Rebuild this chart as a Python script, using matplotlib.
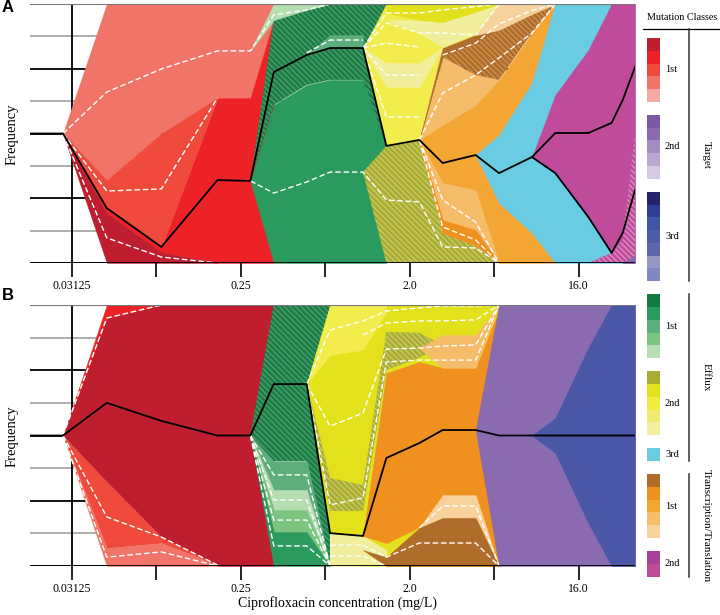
import matplotlib
matplotlib.use('Agg')
import matplotlib.pyplot as plt
from matplotlib.patches import Rectangle
from matplotlib.ticker import NullLocator

plt.rcParams['font.family'] = ['Liberation Serif', 'DejaVu Serif']
plt.rcParams['hatch.linewidth'] = 1.0

# sampled ciprofloxacin concentrations (mg/L); first entry is the left edge
conc = [0.01866, 0.028, 0.048, 0.094, 0.1875, 0.28125, 0.375, 0.5625, 0.75, 1.125,
        1.5, 2.25, 3.0, 4.5, 6.0, 9.0, 12.0, 18.0, 24.0, 27.5, 32.0]
tick_pos = [2 ** p for p in (-5, -3.5, -2, -0.5, 1, 2.5, 4)]
tick_labels = ['0.03125', '', '0.25', '', '2.0', '', '16.0']

fill = {
    'red1': '#BE1E2D', 'red2': '#EC2227', 'red3': '#EF4A3C', 'red4': '#F07468',
    'grn_h': '#1D7B45', 'grn': '#2A9A5E', 'grn_m': '#5DAE7C', 'grn_l': '#7CC480',
    'grn_p': '#B5DDB0', 'olive_h': '#A9AC33', 'yel': '#E3E11C', 'yel2': '#F2EC4C',
    'yel4': '#F2EF9C', 'cyan': '#6ACCE3', 'brown': '#B06C2A', 'brown_h': '#B06C2A',
    'org': '#F0901E', 'org2': '#F3A634', 'org3': '#F5BC6A', 'org4': '#F8D29C',
    'mag': '#C04B9A', 'mag_h': '#C04B9A', 'purple': '#8A6BB0', 'blue': '#4A56A6',
}
hatch_col = {'grn_h': '#46A06C', 'olive_h': '#C9CA62', 'brown_h': '#CC9150',
             'mag_h': '#DC8EC4'}

# Muller regions: (colour, first column, lower %, upper %)
regions_a = [
    ('red4', 1, [50, 32.0, 50, 63.7, 63.7, 93.8], [50, 100, 100, 100, 100, 100]),
    ('red2', 1, [50, 19.3, 4.2, 0, 0, 0], [50, 21.2, 6.2, 63.7, 63.7, 93.8]),
    ('red3', 1, [50, 21.2, 6.2, 63.7], [50, 32.0, 50, 63.7]),
    ('red1', 1, [50, 0, 0, 0], [50, 19.3, 4.2, 0]),
    ('grn', 5, [31.7, 0, 0, 0, 0, 0], [31.7, 61.0, 68.7, 70.7, 70.7, 45.2]),
    ('grn_h', 5, [31.7, 61.0, 68.7, 70.7, 70.7, 45.2], [31.7, 93.8, 97.7, 100, 100, 100]),
    ('grn_p', 5, [81.9, 93.8, 97.7, 100], [81.9, 100, 100, 100]),
    ('grn_m', 7, [80.3, 83.0, 83.0], [80.3, 88.0, 88.0]),
    ('olive_h', 9, [35.1, 0, 0, 0, 0, 0], [35.1, 45.2, 47.5, 11.6, 6.9, 0]),
    ('yel2', 9, [83.0, 45.2, 47.5, 83.0, 88.0, 100], [83.0, 100, 100, 100, 100, 100]),
    ('yel4', 9, [83.0, 68.0, 68.0, 83.0], [83.0, 77.2, 77.2, 83.0]),
    ('yel4', 10, [93.8, 88.8, 83.4, 88.8, 100], [93.8, 93.8, 93.0, 97.0, 100]),
    ('yel', 10, [96.5, 93.8, 93.0, 97.0, 100], [100, 100, 100, 100, 100]),
    ('org2', 11, [47.5, 11.6, 6.9, 0, 0, 0], [47.5, 79.5, 72.6, 70.7, 88.8, 100]),
    ('org3', 11, [47.5, 53.3, 61.0, 70.7], [47.5, 79.5, 72.6, 70.7]),
    ('org3', 11, [47.5, 16.6, 12.7, 0], [47.5, 30.9, 28.2, 0]),
    ('org', 11, [47.5, 11.6, 6.9, 0], [47.5, 16.6, 12.7, 0]),
    ('brown', 11, [47.5, 79.5, 84.9, 90], [47.5, 83.0, 88.0, 90]),
    ('brown_h', 12, [79.5, 72.6, 70.7, 88.8, 100], [79.5, 84.9, 90.0, 96.1, 100]),
    ('org4', 13, [88.0, 90.0, 96.1, 100], [88.0, 100, 100, 100]),
    ('cyan', 13, [41.7, 23.2, 11.6, 0, 0, 0, 0, 0], [41.7, 49.4, 69.5, 100, 100, 100, 100, 100]),
    ('mag', 15, [40.9, 34.7, 17.8, 3.9, 0, 0], [40.9, 64.9, 82.2, 100, 100, 100]),
    ('mag_h', 17, [0, 0, 0, 0], [0, 3.9, 8.9, 50]),
    ('purple', 19, [0, 0], [0, 3.1]),
]
black_a = [
    (0, [50, 50, 21.2, 6.2, 32.0, 31.7, 73.7, 80.3, 83.0, 83.0, 45.2, 47.5, 38.6,
         41.7, 34.7, 40.9, 50.2, 50.2, 54.1, 62.9, 75.7]),
    (15, [40.9, 34.7, 17.8, 3.9, 11.6, 28.2]),
]
dashed_a = [
    (1, [50, 9.7, 2.3, 0]),
    (1, [50, 27.8, 28.6, 63.7]),
    (1, [50, 66.0, 74.9, 81.9, 81.9, 95.8, 97.7, 100]),
    (7, [81.1, 86.1, 86.1]),
    (5, [31.7, 27.0, 31.3, 35.1, 35.1, 24.3, 23.6, 6.2, 5.8, 0]),
    (9, [83.0, 96.5, 96.5, 97.7, 99.0, 100]),
    (9, [83.0, 92.7, 88.8, 88.8, 88.0, 100]),
    (9, [83.0, 84.9, 83.4]),
    (9, [83.0, 72.6, 72.6]),
    (9, [83.0, 56.4, 56.4]),
    (12, [80.3, 84.9, 92.3, 97.5, 100]),
    (11, [47.5, 65.6, 72.6, 79.2, 88.8, 100]),
    (11, [47.5, 24.3, 15.8, 0]),
    (11, [47.5, 13.9, 8.9, 0]),
]

regions_b = [
    ('red1', 1, [50, 32.2, 11.1, 0, 0, 0], [50, 95.0, 100, 100, 100, 100]),
    ('red2', 1, [50, 95.0, 100], [50, 100, 100]),
    ('red3', 1, [50, 6.9, 8.8, 0.4], [50, 32.2, 11.1, 0.4]),
    ('red4', 1, [50, 0, 0, 0], [50, 6.9, 8.8, 0.4]),
    ('grn_h', 5, [50, 40.2, 40.2, 0], [50, 100, 100, 100]),
    ('grn_m', 5, [50, 29.1, 29.1, 0], [50, 40.2, 40.2, 0]),
    ('grn_p', 5, [50, 21.5, 21.5, 0], [50, 29.1, 29.1, 0]),
    ('grn_l', 5, [50, 13.0, 13.0, 0], [50, 21.5, 21.5, 0]),
    ('grn', 5, [50, 0, 0, 0], [50, 13.0, 13.0, 0]),
    ('yel', 7, [69.7, 12.6, 0, 0, 0, 0, 0, 0], [69.7, 100, 100, 100, 100, 100, 100, 100]),
    ('yel4', 8, [0, 0, 0], [12.6, 11.5, 6.1]),
    ('yel2', 7, [69.7, 80.8, 82.8, 97.3], [69.7, 100, 100, 100]),
    ('olive_h', 7, [69.7, 21.1, 21.1, 75.1, 79.7, 84.7], [69.7, 33.7, 31.0, 89.7, 89.3, 84.7]),
    ('org', 9, [11.5, 8.8, 14.9, 18.4, 18.4, 2.0], [11.5, 73.9, 78.2, 75.9, 75.9, 98.0]),
    ('org3', 11, [83.5, 75.9, 75.9, 100], [83.5, 88.5, 88.5, 100]),
    ('org4', 11, [14.6, 18.4, 18.4, 0], [14.6, 27.2, 27.2, 0]),
    ('brown', 9, [6.1, 0, 0, 0, 0, 0], [6.1, 3.4, 14.6, 18.4, 18.4, 0]),
    ('purple', 13, [52.1, 0, 0, 0, 0, 0, 0, 0], [52.1, 100, 100, 100, 100, 100, 100, 100]),
    ('blue', 15, [50, 43.3, 16.5, 0, 0, 0], [50, 56.7, 83.5, 100, 100, 100]),
]
black_b = [
    (0, [50, 50, 62.5, 55.6, 50, 50, 69.7, 69.7, 12.6, 11.5, 41.4, 47.1, 52.1,
         52.1, 50, 50, 50, 50, 50, 50, 50]),
]
dashed_b = [
    (1, [50, 95.0, 100]),
    (1, [50, 18.8, 11.1, 0.4]),
    (1, [50, 3.4, 5.4, 0]),
    (5, [50, 34.9, 34.9, 0]),
    (5, [50, 25.3, 25.3, 0]),
    (5, [50, 17.6, 17.6, 0]),
    (5, [50, 7.7, 7.7, 0]),
    (7, [69.7, 90.4, 93.9, 97.7, 98.9, 99.6, 99.6, 100]),
    (9, [88.5, 93.1, 93.9, 93.9, 94.3, 100]),
    (7, [69.7, 53.6, 58.6, 83.1, 83.5, 84.3, 84.7, 100]),
    (7, [69.7, 23.4, 26.1, 78.2, 78.9, 78.9, 78.9, 100]),
    (8, [8.0, 8.0, 3.4, 8.8, 8.8, 8.8, 0]),
    (8, [3.8, 3.8, 0]),
    (11, [14.6, 23.0, 23.0, 0]),
]

# legend swatches
target1 = ['#BE1E2D', '#EC2227', '#EF4A3C', '#F07468', '#F6A8A2']
target2 = ['#7B59A6', '#8A6BB0', '#A18DC3', '#BAA7D3', '#D5C8E4']
target3 = ['#25246B', '#2F3F96', '#3F55A5', '#4D5DA9', '#5E66AE', '#9696C7', '#8088BF']
efflux1 = ['#157A40', '#2A9A5E', '#5DAE7C', '#7CC480', '#B8DEB3']
efflux2 = ['#A9AC33', '#E3E11C', '#F2EC40', '#EFEB6C', '#F2F0A0']
efflux3 = ['#6ACCE3']
tt1 = ['#B06C2A', '#F0901E', '#F3A634', '#F5BC6A', '#F8D29C']
tt2 = ['#A9409A', '#C04B9A']
legend_groups = [
    ('Target', [('1st', target1), ('2nd', target2), ('3rd', target3)]),
    ('Efflux', [('1st', efflux1), ('2nd', efflux2), ('3rd', efflux3)]),
    ('Transcription/Translation', [('1st', tt1), ('2nd', tt2)]),
]


def draw_panel(ax, regions, black, dashed):
    for y in (0, 25, 50, 75, 100):
        ax.axhline(y, color='black', lw=1.3, zorder=0)
    for y in (12.5, 37.5, 62.5, 87.5):
        ax.axhline(y, color='#a0a0a0', lw=1.2, zorder=0)
    ax.axvline(0.03125, color='black', lw=1.3, zorder=0)

    for key, i0, lo, hi in regions:
        xs = conc[i0:i0 + len(lo)]
        if key in hatch_col:
            ax.fill_between(xs, lo, hi, facecolor=fill[key], edgecolor=hatch_col[key],
                            linewidth=0, hatch='\\' * 6, zorder=1)
        else:
            ax.fill_between(xs, lo, hi, facecolor=fill[key], edgecolor=fill[key],
                            linewidth=0.3, zorder=1)

    for i0, ys in dashed:
        ax.plot(conc[i0:i0 + len(ys)], ys, color='white', lw=1.0, dashes=(4, 2), zorder=3)
    for i0, ys in black:
        ax.plot(conc[i0:i0 + len(ys)], ys, color='black', lw=1.3, zorder=4)

    ax.axhline(0, color='black', lw=1.3, zorder=5)
    ax.axhline(100, color='#777777', lw=0.8, zorder=5)

    ax.set_xscale('log', base=2)
    ax.set_xlim(conc[0], conc[-1])
    ax.set_ylim(0, 100)
    ax.xaxis.set_minor_locator(NullLocator())
    ax.set_xticks(tick_pos)
    ax.set_xticklabels(tick_labels)
    ax.tick_params(axis='x', length=10, width=1.2, direction='out', pad=2, labelsize=8.5)
    ax.set_yticks([])
    for s in ax.spines.values():
        s.set_visible(False)


fig = plt.figure(figsize=(7.2, 6.15), dpi=100)
W, H = 720, 615
ax_a = fig.add_axes([30 / W, 1 - 263 / H, 605 / W, 259 / H])
ax_b = fig.add_axes([30 / W, 1 - 566 / H, 605 / W, 261 / H])
draw_panel(ax_a, regions_a, black_a, dashed_a)
draw_panel(ax_b, regions_b, black_b, dashed_b)

fig.text(12 / W, 1 - 134 / H, 'Frequency', rotation=90, ha='center', va='center', fontsize=10.5)
fig.text(12 / W, 1 - 436 / H, 'Frequency', rotation=90, ha='center', va='center', fontsize=10.5)
fig.text(338 / W, 1 - 603 / H, 'Ciprofloxacin concentration (mg/L)', ha='center',
         va='center', fontsize=10)
fig.text(2 / W, 1 - 8 / H, 'A', fontsize=12, fontweight='bold', family='Liberation Sans',
         ha='left', va='center')
fig.text(2 / W, 1 - 296 / H, 'B', fontsize=12, fontweight='bold', family='Liberation Sans',
         ha='left', va='center')

# legend drawn in pixel coordinates
lax = fig.add_axes([0, 0, 1, 1])
lax.set_xlim(0, W)
lax.set_ylim(H, 0)
lax.axis('off')
lax.text(682, 17, 'Mutation Classes', ha='center', va='center', fontsize=7.3)
lax.plot([643, 720], [28.5, 28.5], color='black', lw=0.9)

sw_h, gap = 12.75, 13.2
y = 38
for gi, (gname, subs) in enumerate(legend_groups):
    g_top = 29 if gi == 0 else y
    for lab, cols in subs:
        s_top = y
        for c in cols:
            lax.add_patch(Rectangle((647, y), 13, sw_h, facecolor=c, edgecolor='none'))
            y += sw_h
        lax.text(665, (s_top + y) / 2, lab, fontsize=7.5, ha='left', va='center')
        y += gap
    g_bot = y - gap
    lax.plot([689, 689], [g_top, g_bot], color='#333333', lw=1.1)
    lax.text(706, (g_top + g_bot) / 2, gname, rotation=270, ha='center', va='center',
             fontsize=8)

fig.savefig('out.png', dpi=100)
